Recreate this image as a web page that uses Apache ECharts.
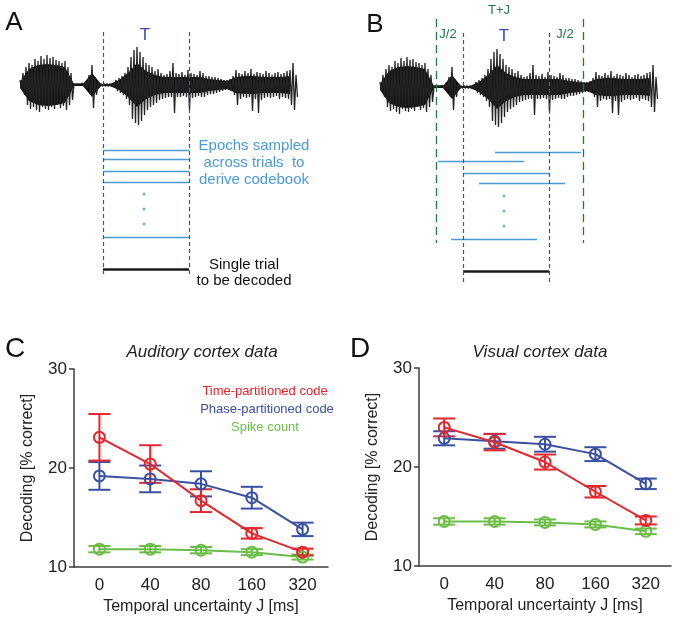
<!DOCTYPE html>
<html><head><meta charset="utf-8">
<script src="https://cdn.jsdelivr.net/npm/echarts/dist/echarts.min.js"></script>
<style>html,body{margin:0;padding:0;background:#fff}#c{width:676px;height:621px}</style>
</head><body><div id="c"></div>
<script>
// ---------- Data ----------
// Sound waveform envelope (upper / lower peak amplitude), one sample every 3 time units
const waveUp = [5,12,18,22,20,26,24,29,26,30, 27,28,25,24,22,24,18,12,1,1, 1,1.5,3,10,20,8,2,1.5,1.5,1.5,
  1.5,2,5,7,9,12,18,28,35,38, 33,28,22,20,18,14,16,12,10,11, 14,22,12,11,13,10,15,12,11,10,
  14,12,9,9,8,8,7,6,5,5, 6,9,15,12,11,14,12,16,11,13, 12,11,14,12,10,12,13,11,12,14, 15,22,10];
const waveDn = [4,10,20,24,22,25,27,22,24,25, 22,24,20,23,21,25,20,15,1,1, 1,1.5,3,10,23,10,2,1.5,1.5,1.5,
  1.5,2,6,8,10,14,20,34,38,40, 36,30,25,22,20,18,15,14,13,12, 12,28,12,12,11,12,25,13,12,11,
  12,12,10,9,9,8,7,6,5,5, 6,10,20,14,12,13,12,26,14,28, 15,13,12,13,12,11,14,12,13,14, 20,25,12];
const waveStep = 3;
// Dense core of the waveform, one value every 9 time units
const waveCore = [3,16,20,21,20,18,1,1,12,1, 1,5,12,22,14,10,8,8,8,8, 8,6,5,4,8,9,9,8,8,8, 9];
const coreStep = 9;

// Schematic (time units along the waveform, row depth)
const tWindow = [83, 169];          // decoding window T
const jWindow = [56, 203];          // extended window T+J
const epochsA = [[83,169,150],[83,169,159],[83,169,171],[83,169,182],[83,169,237]];
const epochsB = [[115,201,152],[58,144,161],[84,169,173],[99,185,183],[71,157,239]];
const dotsA = [[124,194],[124,209],[124,224]];
const dotsB = [[124,196],[124,211],[124,226]];
const trialA = [83,169,269];
const trialB = [83,169,271];
const spanA = [32,277], spanB = [33,282], spanJ = [19,243];

// Decoding results
const jLabels = ['0','40','80','160','320'];
const audTime  = [23.1, 20.4, 16.7, 13.4, 11.5];
const audTimeE = [2.35, 1.9, 1.15, 0.53, 0.35];
const audPhase = [19.2, 18.9, 18.4, 17.0, 13.8];
const audPhaseE= [1.4, 1.35, 1.27, 1.1, 0.68];
const audCount = [11.8, 11.8, 11.7, 11.5, 11.0];
const audCountE= [0.32, 0.32, 0.32, 0.3, 0.25];
const visTime  = [24.0, 22.5, 20.5, 17.5, 14.6];
const visTimeE = [0.9, 0.82, 0.76, 0.58, 0.4];
const visPhase = [22.9, 22.6, 22.3, 21.3, 18.3];
const visPhaseE= [0.71, 0.75, 0.75, 0.7, 0.53];
const visCount = [14.5, 14.5, 14.4, 14.2, 13.5];
const visCountE= [0.32, 0.32, 0.3, 0.3, 0.28];

// ---------- Styles ----------
const RED='#e5262d', BLUE='#3a51a2', GREEN='#6bbd48', LBLUE='#4b9bd6', DBLUE='#3d4fa3', DGREEN='#1f7a45';
const FONT='Liberation Sans, Arial, Helvetica, sans-serif';

function waveZig(){
  const d=[];
  for(let i=0;i<waveUp.length;i++){ d.push([i*waveStep, waveUp[i]]); d.push([i*waveStep+waveStep/2, -waveDn[i]]); }
  return d;
}
function waveSeries(ax){
  const coreArea = sign => ({type:'line', data:waveCore.map((v,i)=>[i*coreStep, sign*v]), xAxisIndex:ax, yAxisIndex:ax,
    showSymbol:false, lineStyle:{width:0}, areaStyle:{color:'#121212', opacity:1, origin:'auto'}, z:1});
  return [
    coreArea(1), coreArea(-1),
    {type:'line', data:waveZig(), xAxisIndex:ax, yAxisIndex:ax, showSymbol:false, lineStyle:{color:'#222', width:1.3}, z:1}
  ];
}
function segs(list){ return list.map(e=>({coords:[[e[0],e[2]],[e[1],e[2]]]})); }
function vsegs(xs, span){ return xs.map(x=>({coords:[[x,span[0]],[x,span[1]]]})); }
function errData(v,e){ return v.map((y,i)=>[i, y-e[i], y+e[i]]); }
const HALF=11;
function errRender(params, api){
  const i=api.value(0), lo=api.coord([i, api.value(1)]), hi=api.coord([i, api.value(2)]);
  const st={stroke: api.visual('color'), lineWidth: 2};
  return {type:'group', children:[
    {type:'line', shape:{x1:lo[0],y1:lo[1],x2:hi[0],y2:hi[1]}, style:st},
    {type:'line', shape:{x1:lo[0]-HALF,y1:lo[1],x2:lo[0]+HALF,y2:lo[1]}, style:st},
    {type:'line', shape:{x1:hi[0]-HALF,y1:hi[1],x2:hi[0]+HALF,y2:hi[1]}, style:st}
  ]};
}
function lineSeries(name, data, color, ax){
  return {type:'line', name, data, xAxisIndex:ax, yAxisIndex:ax, symbol:'circle', symbolSize:11,
    lineStyle:{color, width:2}, itemStyle:{color:'rgba(0,0,0,0)', borderColor:color, borderWidth:2}, z:3};
}
function errSeries(v,e,color,ax){
  return {type:'custom', data: errData(v,e), xAxisIndex:ax, yAxisIndex:ax, encode:{x:0,y:[1,2]},
    itemStyle:{color}, renderItem: errRender, z:2};
}
const hiddenVal = (grid,min,max,inv)=>({type:'value', gridIndex:grid, min, max, inverse:!!inv, show:false});
function catAxis(grid){
  return {type:'category', gridIndex:grid, data:jLabels, boundaryGap:true,
    name:'Temporal uncertainty J [ms]', nameLocation:'middle', nameGap:32,
    nameTextStyle:{fontSize:16, color:'#222', fontFamily:FONT},
    axisLine:{lineStyle:{color:'#3c3c3c', width:1.5}}, axisTick:{show:false},
    axisLabel:{fontSize:17, color:'#222', margin:10, fontFamily:FONT}, splitLine:{show:false}};
}
function valAxis(grid){
  return {type:'value', gridIndex:grid, min:10, max:30, interval:10,
    name:'Decoding [% correct]', nameLocation:'middle', nameGap:38,
    nameTextStyle:{fontSize:16, color:'#222', fontFamily:FONT},
    axisLine:{show:true, lineStyle:{color:'#3c3c3c', width:1.5}}, axisTick:{show:true, length:5, lineStyle:{color:'#3c3c3c', width:1.5}},
    axisLabel:{fontSize:17, color:'#222', margin:7, fontFamily:FONT}, splitLine:{show:false}};
}
function txt(x,y,text,size,color,extra){
  return Object.assign({type:'text', x, y, silent:true,
    style:Object.assign({text, fill:color, font: size+'px '+FONT, textAlign:'center', textVerticalAlign:'middle'}, extra||{})});
}

const chart = echarts.init(document.getElementById('c'), null, {renderer:'canvas'});
chart.setOption({
  animation:false,
  textStyle:{fontFamily:FONT},
  grid:[
    {left:20, top:40, width:277, height:90},
    {left:20, top:0, width:277, height:300},
    {left:380, top:42, width:277, height:90},
    {left:380, top:0, width:277, height:300},
    {left:74, top:369, width:254, height:198},
    {left:419, top:368, width:252, height:198}
  ],
  xAxis:[ hiddenVal(0,0,277), hiddenVal(1,0,277), hiddenVal(2,0,277), hiddenVal(3,0,277), catAxis(4), catAxis(5) ],
  yAxis:[ hiddenVal(0,-45,45), hiddenVal(1,0,300,true), hiddenVal(2,-45,45), hiddenVal(3,0,300,true), valAxis(4), valAxis(5) ],
  series:[
    ...waveSeries(0), ...waveSeries(2),
    // panel A schematic
    {type:'lines', coordinateSystem:'cartesian2d', xAxisIndex:1, yAxisIndex:1, data:vsegs(tWindow, spanA),
      lineStyle:{color:DBLUE, width:1.2, type:[4,3], opacity:1}, z:4},
    {type:'lines', coordinateSystem:'cartesian2d', xAxisIndex:1, yAxisIndex:1, data:segs(epochsA),
      lineStyle:{color:LBLUE, width:1.3, opacity:1}, z:3},
    {type:'lines', coordinateSystem:'cartesian2d', xAxisIndex:1, yAxisIndex:1, data:segs([trialA]),
      lineStyle:{color:'#1a1a1a', width:2.6, opacity:1}, z:3},
    {type:'scatter', xAxisIndex:1, yAxisIndex:1, data:dotsA, symbolSize:3, itemStyle:{color:LBLUE}},
    // panel B schematic
    {type:'lines', coordinateSystem:'cartesian2d', xAxisIndex:3, yAxisIndex:3, data:vsegs(tWindow, spanB),
      lineStyle:{color:DBLUE, width:1.2, type:[4,3], opacity:1}, z:4},
    {type:'lines', coordinateSystem:'cartesian2d', xAxisIndex:3, yAxisIndex:3, data:vsegs(jWindow, spanJ),
      lineStyle:{color:DGREEN, width:1.3, type:[8,5], opacity:1}, z:4},
    {type:'lines', coordinateSystem:'cartesian2d', xAxisIndex:3, yAxisIndex:3, data:segs(epochsB),
      lineStyle:{color:LBLUE, width:1.3, opacity:1}, z:3},
    {type:'lines', coordinateSystem:'cartesian2d', xAxisIndex:3, yAxisIndex:3, data:segs([trialB]),
      lineStyle:{color:'#1a1a1a', width:2.6, opacity:1}, z:3},
    {type:'scatter', xAxisIndex:3, yAxisIndex:3, data:dotsB, symbolSize:3, itemStyle:{color:LBLUE}},
    // panel C
    errSeries(audCount, audCountE, GREEN, 4), lineSeries('Spike count', audCount, GREEN, 4),
    errSeries(audPhase, audPhaseE, BLUE, 4), lineSeries('Phase-partitioned code', audPhase, BLUE, 4),
    errSeries(audTime, audTimeE, RED, 4), lineSeries('Time-partitioned code', audTime, RED, 4),
    // panel D
    errSeries(visCount, visCountE, GREEN, 5), lineSeries('Spike count', visCount, GREEN, 5),
    errSeries(visPhase, visPhaseE, BLUE, 5), lineSeries('Phase-partitioned code', visPhase, BLUE, 5),
    errSeries(visTime, visTimeE, RED, 5), lineSeries('Time-partitioned code', visTime, RED, 5)
  ],
  graphic:[
    txt(14,23,'A',26,'#111'),
    txt(145,35,'T',17,DBLUE),
    txt(254,146,'Epochs sampled',15,LBLUE),
    txt(254,163,'across trials  to',15,LBLUE),
    txt(254,180,'derive codebook',15,LBLUE),
    txt(244,265,'Single trial',15,'#111'),
    txt(244,281,'to be decoded',15,'#111'),
    txt(375,25,'B',26,'#111'),
    txt(499,10,'T+J',13,DGREEN),
    txt(448,34,'J/2',13,DGREEN),
    txt(565,34,'J/2',13,DGREEN),
    txt(504,36,'T',17,DBLUE),
    txt(15,349,'C',28,'#111'),
    txt(360,349,'D',28,'#111'),
    txt(202,352,'Auditory cortex data',17,'#222',{font:'italic 17px '+FONT}),
    txt(540,352,'Visual cortex data',17,'#222',{font:'italic 17px '+FONT}),
    txt(265,391,'Time-partitioned code',13,RED),
    txt(267,409,'Phase-partitioned code',13,BLUE),
    txt(265,427,'Spike count',13,GREEN)
  ]
});
</script></body></html>
